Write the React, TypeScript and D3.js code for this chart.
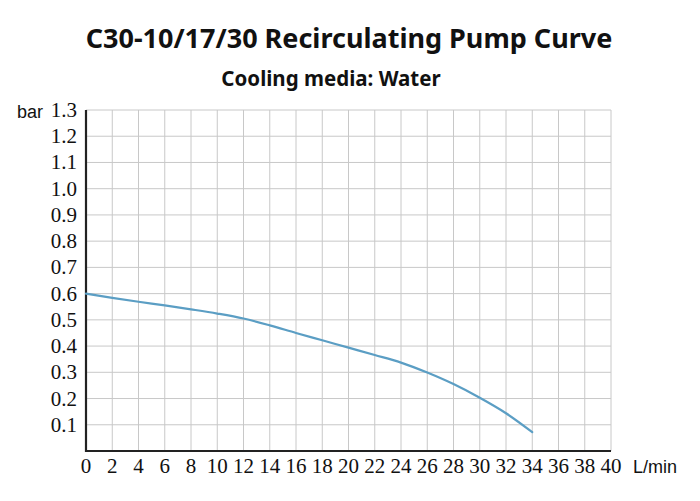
import { useEffect, useRef } from "react"
import * as d3 from "d3"

// flow (L/min) and pressure (bar)
const flow = [0, 2, 4, 6, 8, 10, 12, 14, 16, 18, 20, 22, 24, 26, 28, 30, 32, 34]
const pressure = [0.6, 0.584, 0.569, 0.555, 0.54, 0.524, 0.505, 0.479, 0.45, 0.422, 0.394, 0.366, 0.337, 0.299, 0.255, 0.203, 0.144, 0.072]

const xTicks = d3.range(0, 41, 2)
const yTicks = [0.1, 0.2, 0.3, 0.4, 0.5, 0.6, 0.7, 0.8, 0.9, 1.0, 1.1, 1.2, 1.3]

const title = "C30-10/17/30 Recirculating Pump Curve"
const subtitle = "Cooling media: Water"

export default function App() {
  const svgRef = useRef<SVGSVGElement>(null)

  useEffect(() => {
    if (!svgRef.current) return
    const svg = d3.select(svgRef.current)
    svg.selectAll("*").remove()

    const margin = { top: 110, right: 89, bottom: 50, left: 86 }
    const width = 700
    const height = 501

    const x = d3.scaleLinear().domain([0, 40]).range([margin.left, width - margin.right])
    const y = d3.scaleLinear().domain([0, 1.3]).range([height - margin.bottom, margin.top])

    const labelFont = "'Liberation Serif', serif"
    const titleFont = "'Noto Sans', 'Open Sans', sans-serif"

    // titles
    svg
      .append("text")
      .attr("x", 349)
      .attr("y", 48)
      .attr("text-anchor", "middle")
      .attr("font-family", titleFont)
      .attr("font-weight", 700)
      .attr("font-size", 27)
      .attr("fill", "#111")
      .text(title)

    svg
      .append("text")
      .attr("x", 331)
      .attr("y", 86)
      .attr("text-anchor", "middle")
      .attr("font-family", titleFont)
      .attr("font-weight", 700)
      .attr("font-size", 20.5)
      .attr("fill", "#111")
      .text(subtitle)

    // grid
    const grid = svg.append("g").attr("stroke", "#c8c8c8").attr("stroke-width", 1)
    grid
      .selectAll(".vx")
      .data(xTicks.slice(1))
      .enter()
      .append("line")
      .attr("x1", (d) => x(d))
      .attr("x2", (d) => x(d))
      .attr("y1", y(0))
      .attr("y2", y(1.3))
    grid
      .selectAll(".hy")
      .data(yTicks)
      .enter()
      .append("line")
      .attr("x1", x(0))
      .attr("x2", x(40))
      .attr("y1", (d) => y(d))
      .attr("y2", (d) => y(d))

    // axes
    svg
      .append("path")
      .attr("d", `M${x(0)},${y(1.3)}V${y(0)}H${x(40)}`)
      .attr("fill", "none")
      .attr("stroke", "#222")
      .attr("stroke-width", 2.2)

    // tick labels
    svg
      .append("g")
      .selectAll("text")
      .data(xTicks)
      .enter()
      .append("text")
      .attr("x", (d) => x(d))
      .attr("y", 473)
      .attr("text-anchor", "middle")
      .attr("font-family", labelFont)
      .attr("font-size", 21)
      .attr("fill", "#111")
      .text((d) => d)

    svg
      .append("g")
      .selectAll("text")
      .data(yTicks)
      .enter()
      .append("text")
      .attr("x", 77)
      .attr("y", (d) => y(d) + 7)
      .attr("text-anchor", "end")
      .attr("font-family", labelFont)
      .attr("font-size", 21)
      .attr("fill", "#111")
      .text((d) => d.toFixed(1))

    svg
      .append("text")
      .attr("x", 17)
      .attr("y", 118)
      .attr("font-family", "'Liberation Sans', Arial, sans-serif")
      .attr("font-size", 18)
      .attr("fill", "#111")
      .text("bar")

    svg
      .append("text")
      .attr("x", 633)
      .attr("y", 473)
      .attr("font-family", "'Liberation Sans', Arial, sans-serif")
      .attr("font-size", 18)
      .attr("fill", "#111")
      .text("L/min")

    // pump curve
    const line = d3
      .line<number>()
      .x((d, i) => x(flow[i]))
      .y((d) => y(d))
      .curve(d3.curveMonotoneX)

    svg
      .append("path")
      .datum(pressure)
      .attr("d", line)
      .attr("fill", "none")
      .attr("stroke", "#5b9ec4")
      .attr("stroke-width", 2.2)
      .attr("stroke-linecap", "round")
  }, [])

  return (
    <svg
      ref={svgRef}
      width={700}
      height={501}
      style={{ position: "absolute", left: 0, top: 0, background: "#fff" }}
    />
  )
}
